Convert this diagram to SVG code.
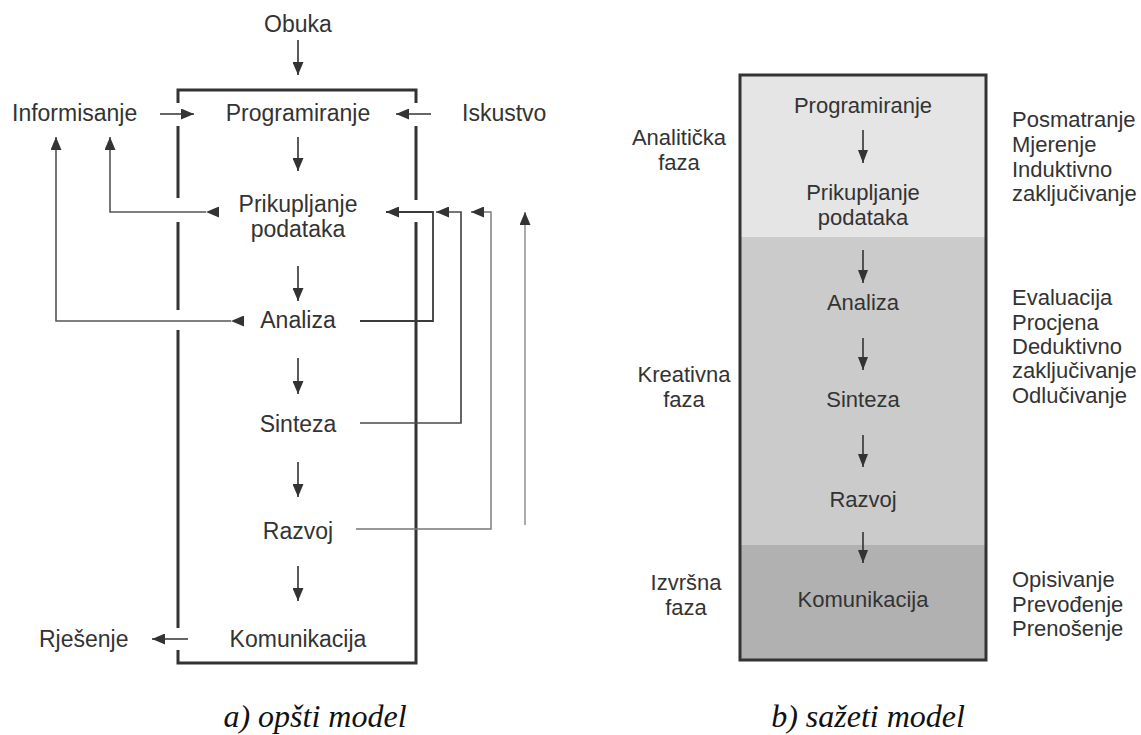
<svg xmlns="http://www.w3.org/2000/svg" width="1141" height="735" viewBox="0 0 1141 735">
  <style>
    text { font-family: "Liberation Sans", Arial, sans-serif; fill: #333; }
    .l { font-size: 23px; }
    .r { font-size: 22px; }
    .mid { text-anchor: middle; }
    .cap { font-family: "Liberation Serif", "Times New Roman", serif; font-style: italic; font-size: 32px; fill: #111; text-anchor: middle; }
    .frame { fill: none; stroke: #333; stroke-width: 3; stroke-linecap: butt; }
    .flow { fill: none; stroke: #333; stroke-width: 1.6; }
    .fb { fill: none; }
  </style>
  <defs>
    <marker id="ah" viewBox="0 0 13 11" refX="13" refY="5.5" markerWidth="13" markerHeight="11" markerUnits="userSpaceOnUse" orient="auto">
      <path d="M0,0 L13,5.5 L0,11 z" fill="#333"/>
    </marker>
    <marker id="ahs" viewBox="0 0 13 10" refX="13" refY="5" markerWidth="13" markerHeight="10" markerUnits="userSpaceOnUse" orient="auto">
      <path d="M0,0 L13,5 L0,10 z" fill="#333"/>
    </marker>
  </defs>

  <!-- a) general model: frame with openings where arrows pass -->
  <g id="frame-a">
    <path class="frame" d="M178,103 V90 H416 V103 M178,126 V198 M178,222 V310 M178,330 V628 M178,650 V663 H416 V222 M416,126 V200"/>
  </g>
  <g id="obuka"><text class="l mid" x="298" y="32">Obuka</text></g>
  <g id="informisanje"><text class="l" x="12" y="121">Informisanje</text></g>
  <g id="iskustvo"><text class="l" x="462" y="121">Iskustvo</text></g>
  <g id="programiranje-a"><text class="l mid" x="298" y="121">Programiranje</text></g>
  <g id="prikupljanje-a"><text class="l mid" x="298" y="212">Prikupljanje</text><text class="l mid" x="298" y="237">podataka</text></g>
  <g id="analiza-a"><text class="l mid" x="298" y="328">Analiza</text></g>
  <g id="sinteza-a"><text class="l mid" x="298" y="432">Sinteza</text></g>
  <g id="razvoj-a"><text class="l mid" x="298" y="539">Razvoj</text></g>
  <g id="komunikacija-a"><text class="l mid" x="298" y="647">Komunikacija</text></g>
  <g id="rjesenje"><text class="l" x="39" y="647">Rješenje</text></g>

  <g id="connectors-a">
    <!-- main sequence -->
    <line class="flow" x1="298" y1="40" x2="298" y2="75" marker-end="url(#ah)"/>
    <line class="flow" x1="160" y1="114" x2="194" y2="114" marker-end="url(#ah)"/>
    <line class="flow" x1="431" y1="114" x2="396" y2="114" marker-end="url(#ah)"/>
    <line class="flow" x1="298" y1="137" x2="298" y2="171" marker-end="url(#ah)"/>
    <line class="flow" x1="298" y1="266" x2="298" y2="301" marker-end="url(#ah)"/>
    <line class="flow" x1="298" y1="358" x2="298" y2="394" marker-end="url(#ah)"/>
    <line class="flow" x1="298" y1="462" x2="298" y2="497" marker-end="url(#ah)"/>
    <line class="flow" x1="298" y1="566" x2="298" y2="601" marker-end="url(#ah)"/>
    <line class="flow" x1="188" y1="639" x2="152" y2="639" marker-end="url(#ah)"/>
    <!-- links with Informisanje -->
    <path class="fb" stroke="#555" stroke-width="1.6" d="M206,212 H110 V137" marker-start="url(#ah)" marker-end="url(#ah)"/>
    <path class="fb" stroke="#555" stroke-width="1.6" d="M231,321 H56 V137" marker-start="url(#ah)" marker-end="url(#ah)"/>
    <!-- feedback to data collection -->
    <path class="fb" stroke="#3a3a3a" stroke-width="1.8" d="M360,321 H433 V212 H386" marker-end="url(#ah)"/>
    <path class="fb" stroke="#4a4a4a" stroke-width="1.7" d="M360,423 H461 V212 H436" marker-end="url(#ah)"/>
    <path class="fb" stroke="#777" stroke-width="1.4" d="M356,529 H491 V212 H471" marker-end="url(#ah)"/>
    <line class="fb" stroke="#888" stroke-width="1.4" x1="525" y1="525" x2="525" y2="212" marker-end="url(#ah)"/>
  </g>

  <text class="cap" x="315" y="727">a) opšti model</text>

  <!-- b) condensed model: three shaded phases -->
  <g id="box-b">
    <rect x="740" y="75" width="246" height="162" fill="#e5e5e5"/>
    <rect x="740" y="237" width="246" height="308" fill="#cbcbcb"/>
    <rect x="740" y="545" width="246" height="115" fill="#b1b1b1"/>
    <rect x="740" y="75" width="246" height="585" fill="none" stroke="#333" stroke-width="3"/>
  </g>
  <g id="programiranje-b"><text class="r mid" x="863" y="113">Programiranje</text></g>
  <g id="prikupljanje-b"><text class="r mid" x="863" y="200">Prikupljanje</text><text class="r mid" x="863" y="225">podataka</text></g>
  <g id="analiza-b"><text class="r mid" x="863" y="310">Analiza</text></g>
  <g id="sinteza-b"><text class="r mid" x="863" y="407">Sinteza</text></g>
  <g id="razvoj-b"><text class="r mid" x="863" y="507">Razvoj</text></g>
  <g id="komunikacija-b"><text class="r mid" x="863" y="607">Komunikacija</text></g>

  <g id="connectors-b">
    <line class="flow" x1="863" y1="130" x2="863" y2="163" marker-end="url(#ahs)"/>
    <line class="flow" x1="863" y1="250" x2="863" y2="283" marker-end="url(#ahs)"/>
    <line class="flow" x1="863" y1="338" x2="863" y2="370" marker-end="url(#ahs)"/>
    <line class="flow" x1="863" y1="435" x2="863" y2="467" marker-end="url(#ahs)"/>
    <line class="flow" x1="863" y1="532" x2="863" y2="563" marker-end="url(#ahs)"/>
  </g>

  <g id="phases">
    <text class="r mid" x="679" y="145">Analitička</text>
    <text class="r mid" x="679" y="170">faza</text>
    <text class="r mid" x="684" y="382">Kreativna</text>
    <text class="r mid" x="684" y="407">faza</text>
    <text class="r mid" x="686" y="590">Izvršna</text>
    <text class="r mid" x="686" y="615">faza</text>
  </g>
  <g id="activities">
    <text class="r" x="1012" y="127">Posmatranje</text>
    <text class="r" x="1012" y="152">Mjerenje</text>
    <text class="r" x="1012" y="177">Induktivno</text>
    <text class="r" x="1012" y="201">zaključivanje</text>
    <text class="r" x="1012" y="305">Evaluacija</text>
    <text class="r" x="1012" y="330">Procjena</text>
    <text class="r" x="1012" y="354">Deduktivno</text>
    <text class="r" x="1012" y="378">zaključivanje</text>
    <text class="r" x="1012" y="403">Odlučivanje</text>
    <text class="r" x="1012" y="587">Opisivanje</text>
    <text class="r" x="1012" y="612">Prevođenje</text>
    <text class="r" x="1012" y="636">Prenošenje</text>
  </g>

  <text class="cap" x="868" y="727">b) sažeti model</text>
</svg>
